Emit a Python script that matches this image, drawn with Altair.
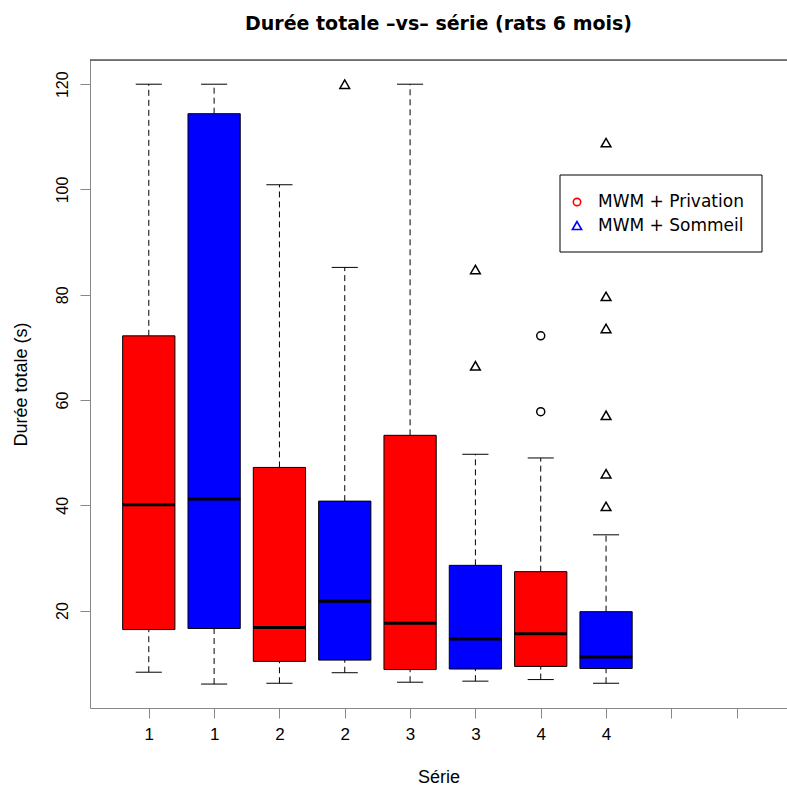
import altair as alt
import pandas as pd

# ---- data ----
positions = [1, 2, 3, 4, 5, 6, 7, 8]
series_labels = ["1", "1", "2", "2", "3", "3", "4", "4", "", ""]
groups = ["MWM + Privation", "MWM + Sommeil"] * 4
lower_whisker = [8.3, 6.05, 6.2, 8.2, 6.4, 6.6, 6.9, 6.2]
q1 = [16.4, 16.6, 10.35, 10.6, 8.8, 8.9, 9.4, 9.0]
median = [40.1, 41.2, 16.8, 21.8, 17.6, 14.6, 15.6, 11.2]
q3 = [72.2, 114.4, 47.2, 40.8, 53.3, 28.6, 27.4, 19.8]
upper_whisker = [120.0, 120.0, 100.9, 85.2, 120.0, 49.7, 49.0, 34.4]

outlier_pos = [4, 6, 6, 7, 7, 8, 8, 8, 8, 8, 8]
outlier_val = [120.0, 84.8, 66.5, 72.2, 57.8, 108.9, 79.7, 73.6, 57.1, 46.0, 39.8]

group_names = ["MWM + Privation", "MWM + Sommeil"]
group_colors = ["#FF0000", "#0000FF"]
group_shapes = ["circle", "triangle-up"]
group_sizes = [64, 95]

FONT = "DejaVu Sans"
W, H = 697, 648

df = pd.DataFrame({
    "pos": positions, "group": groups, "lower": lower_whisker, "q1": q1,
    "median": median, "q3": q3, "upper": upper_whisker,
})
out_df = pd.DataFrame({
    "pos": outlier_pos, "val": outlier_val,
    "group": [groups[p - 1] for p in outlier_pos],
})

xscale = alt.Scale(domain=[0.1, 10.77], nice=False, zero=False)
yscale = alt.Scale(domain=[1.5, 124.6], nice=False, zero=False)

label_array = "[" + ",".join("'" + s + "'" for s in series_labels) + "]"
xaxis = alt.Axis(
    values=list(range(1, 11)), labelExpr=label_array + "[datum.value - 1]",
    title="Série", grid=False, tickSize=10, labelPadding=8,
    labelFontSize=17, titleFontSize=18, titleFontWeight="normal",
    titleY=74, titleBaseline="alphabetic", labelFlush=False, labelOverlap=False,
)
yaxis = alt.Axis(
    values=[20, 40, 60, 80, 100, 120], title="Durée totale (s)", grid=False,
    tickSize=10, labelAngle=270, labelAlign="center", labelBaseline="bottom",
    labelPadding=10, labelFontSize=16, titleFontSize=18, titleFontWeight="normal",
    titleAngle=270, titleX=-69, titleY=324, titleAlign="center", titleBaseline="middle",
    labelFlush=False, labelOverlap=False,
)


def X(field):
    return alt.X(field, type="quantitative", scale=xscale, axis=xaxis)


def Y(field):
    return alt.Y(field, type="quantitative", scale=yscale, axis=yaxis)


base = alt.Chart(df).transform_calculate(
    left="datum.pos - 0.4", right="datum.pos + 0.4",
    capl="datum.pos - 0.2", capr="datum.pos + 0.2",
)

whisk_up = base.mark_rule(color="black", strokeWidth=1, strokeDash=[6, 4]).encode(
    x=X("pos"), y=Y("q3"), y2="upper")
whisk_lo = base.mark_rule(color="black", strokeWidth=1, strokeDash=[6, 4]).encode(
    x=X("pos"), y=Y("lower"), y2="q1")
cap_up = base.mark_rule(color="black", strokeWidth=1).encode(
    x=X("capl"), x2="capr", y=Y("upper"))
cap_lo = base.mark_rule(color="black", strokeWidth=1).encode(
    x=X("capl"), x2="capr", y=Y("lower"))
boxes = base.mark_rect(stroke="black", strokeWidth=1).encode(
    x=X("left"), x2="right", y=Y("q1"), y2="q3",
    fill=alt.Fill("group:N", scale=alt.Scale(domain=group_names, range=group_colors), legend=None),
)
medians = base.mark_rule(color="black", strokeWidth=3).encode(
    x=X("left"), x2="right", y=Y("median"))

outlier_layers = []
for name, shape, size in zip(group_names, group_shapes, group_sizes):
    outlier_layers.append(
        alt.Chart(out_df).transform_filter(alt.datum.group == name)
        .mark_point(shape=shape, filled=False, color="black", size=size, strokeWidth=1.5,
                    opacity=1)
        .encode(x=X("pos"), y=Y("val"))
    )

# ---- legend box (decoration, pixel placed like R's legend()) ----
one = pd.DataFrame({"a": [0]})
LX, LY, LW, LH = 470, 115, 202, 77
legend_layers = [
    alt.Chart(one).mark_rect(fill="white", stroke="black", strokeWidth=1).encode(
        x=alt.value(LX), x2=alt.value(LX + LW), y=alt.value(LY), y2=alt.value(LY + LH))
]
for i, (name, color, shape, size) in enumerate(zip(group_names, group_colors, group_shapes, group_sizes)):
    cy = LY + 27 + 23.5 * i
    legend_layers.append(
        alt.Chart(one).mark_point(shape=shape, filled=False, color=color, size=size - 10,
                                  strokeWidth=1.6, opacity=1).encode(
            x=alt.value(LX + 17), y=alt.value(cy)))
    legend_layers.append(
        alt.Chart(one).mark_text(text=name, font=FONT, fontSize=17, align="left",
                                 baseline="middle", color="black").encode(
            x=alt.value(LX + 38), y=alt.value(cy)))

top_frame = alt.Chart(one).mark_rule(color="black", strokeWidth=1).encode(
    x=alt.value(0), x2=alt.value(W), y=alt.value(0))

chart = alt.layer(
    whisk_up, whisk_lo, cap_up, cap_lo, boxes, medians, *outlier_layers,
    *legend_layers, top_frame,
).properties(
    width=W, height=H, autosize="none",
    padding={"left": 90, "top": 60, "right": 0, "bottom": 79},
    title=alt.Title("Durée totale –vs– série (rats 6 mois)", font=FONT, fontSize=19,
                    fontWeight="bold", offset=26, anchor="middle", color="black"),
).configure_view(strokeWidth=0).configure_axis(
    labelFont=FONT, titleFont=FONT, domainColor="black", tickColor="black",
    labelColor="black", titleColor="black", domainWidth=1, tickWidth=1,
).configure(background="white")

chart.save("out.html", embed_options={"renderer": "svg", "actions": False})
